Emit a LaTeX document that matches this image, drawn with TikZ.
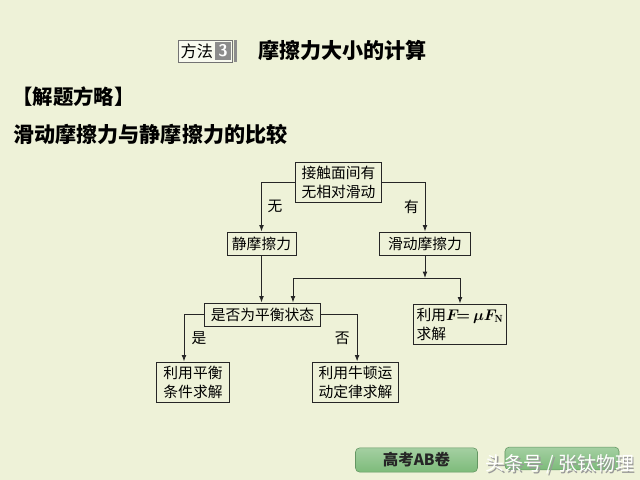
\documentclass[tikz,border=0pt]{standalone}
\usepackage{fontspec}
\newfontfamily\cjk{Noto Sans CJK SC}
\usetikzlibrary{arrows.meta, positioning, calc}

\definecolor{fondo}{HTML}{EEF2D8}
\definecolor{verdeboton}{HTML}{7DBB7A}
\definecolor{grisnum}{HTML}{8C8C8C}

\begin{document}
\begin{tikzpicture}[
        x=0.025cm, y=-0.025cm,
        every node/.style={font=\cjk\fontsize{10.5}{13.5}\selectfont},
        caja/.style={
            rectangle, draw=black!85, line width=0.7pt, fill=fondo,
            align=center, inner xsep=3pt, inner ysep=1pt
        },
        rotulo/.style={font=\cjk\fontsize{10.5}{13.5}\selectfont, inner sep=1pt},
        titulo/.style={font=\cjk\bfseries\fontsize{15}{18}\selectfont, anchor=west, inner sep=0pt},
        boton/.style={
            rectangle, rounded corners=3pt, draw=verdeboton!80!black, line width=0.4pt,
            top color=verdeboton!70!white, bottom color=verdeboton,
            minimum width=3.05cm, minimum height=0.6cm,
            font=\cjk\bfseries\fontsize{11}{13}\selectfont, text=black!85
        },
        arr/.style={-{Latex[length=1.6mm, width=1.2mm]}, line width=0.7pt, draw=black!85}
    ]

% --- Fondo ---
        \fill[fondo] (0,0) rectangle (640,480);
        \useasboundingbox (0,0) rectangle (640,480);

% --- Cabecera ---
        \node[rectangle, draw=black!55, fill=white!60!fondo, line width=0.6pt,
              minimum width=1.35cm, minimum height=0.55cm, inner sep=0pt] (metodo) at (205,51) {};
        \node[anchor=west, inner sep=1pt, font=\cjk\fontsize{11.5}{13}\selectfont] (metodo_txt) at (179,51) {方法};
        \node[rectangle, fill=grisnum, minimum width=0.42cm, minimum height=0.46cm, inner sep=0pt,
              font=\sffamily\bfseries\fontsize{12}{13}\selectfont, text=white] (numero) at (223,51) {3};
        \fill[black!45] (234,40) rectangle (236.5,62);
        \node[titulo] (tema) at (258,50) {摩擦力大小的计算};
        \node[titulo, font=\cjk\bfseries\fontsize{14.5}{18}\selectfont] (estrategia) at (12,97) {【解题方略】};
        \node[titulo] (comparacion) at (13,134) {滑动摩擦力与静摩擦力的比较};

% --- Diagrama ---
        \node[caja, minimum width=2.125cm, minimum height=1cm] (contacto) at (338.5,182)
            {接触面间有\\无相对滑动};
        \node[caja, minimum width=1.725cm, minimum height=0.575cm] (estatica) at (261.5,243.5)
            {静摩擦力};
        \node[caja, minimum width=2.25cm, minimum height=0.575cm] (deslizante) at (425,243.5)
            {滑动摩擦力};
        \node[caja, minimum width=2.875cm, minimum height=0.575cm] (equilibrio) at (262.5,314.5)
            {是否为平衡状态};
        \node[caja, align=left, minimum width=2.15cm, minimum height=1cm, inner xsep=2pt] (formula) at (460,324)
            {利用{\boldmath$F\!{=}\,\mu F_{\mathrm{N}}$}\\求解};
        \node[caja, minimum width=1.8cm, minimum height=1cm] (cond_equil) at (193,382)
            {利用平衡\\条件求解};
        \node[caja, minimum width=2.125cm, minimum height=1cm] (newton) at (355.5,382)
            {利用牛顿运\\动定律求解};

% --- Flechas ---
        \draw[arr] (contacto.west) -| node[pos=0.75, right=3pt, rotulo] {无} (estatica.north);
        \draw[arr] (contacto.east) -| node[pos=0.75, left=3pt, rotulo] {有} (deslizante.north);
        \draw[arr] (estatica.south) -- (estatica.south |- equilibrio.north);

        \coordinate (ramal) at (425,278);
        \coordinate (ramal_izq) at (293,278);
        \draw[arr] (deslizante.south) -- (ramal);
        \draw[line width=0.7pt, draw=black!85] (ramal_izq) -- (ramal -| formula.north);
        \draw[arr] (ramal_izq) -- (ramal_izq |- equilibrio.north);
        \draw[arr] (ramal -| formula.north) -- (formula.north);

        \draw[arr] (equilibrio.west) -| node[pos=0.75, right=4pt, rotulo] {是} ([xshift=-0.225cm]cond_equil.north);
        \draw[arr] (equilibrio.east) -| node[pos=0.75, left=4pt, rotulo] {否} ([xshift=0.04cm]newton.north);

% --- Botones ---
        \node[boton] (ab) at (416.5,460) {高考AB卷};
        \node[boton, minimum width=2.85cm, minimum height=0.57cm] (siguiente) at (562,458.5) {};
        \node[font=\cjk\fontsize{13.5}{15}\selectfont, text=black!40, anchor=west, inner sep=0pt]
            (marca_sombra) at (486.8,465.8) {头条号 / 张钛物理};
        \node[font=\cjk\fontsize{13.5}{15}\selectfont, text=white, anchor=west, inner sep=0pt]
            (marca) at (485,464) {头条号 / 张钛物理};
    \end{tikzpicture}
\end{document}
